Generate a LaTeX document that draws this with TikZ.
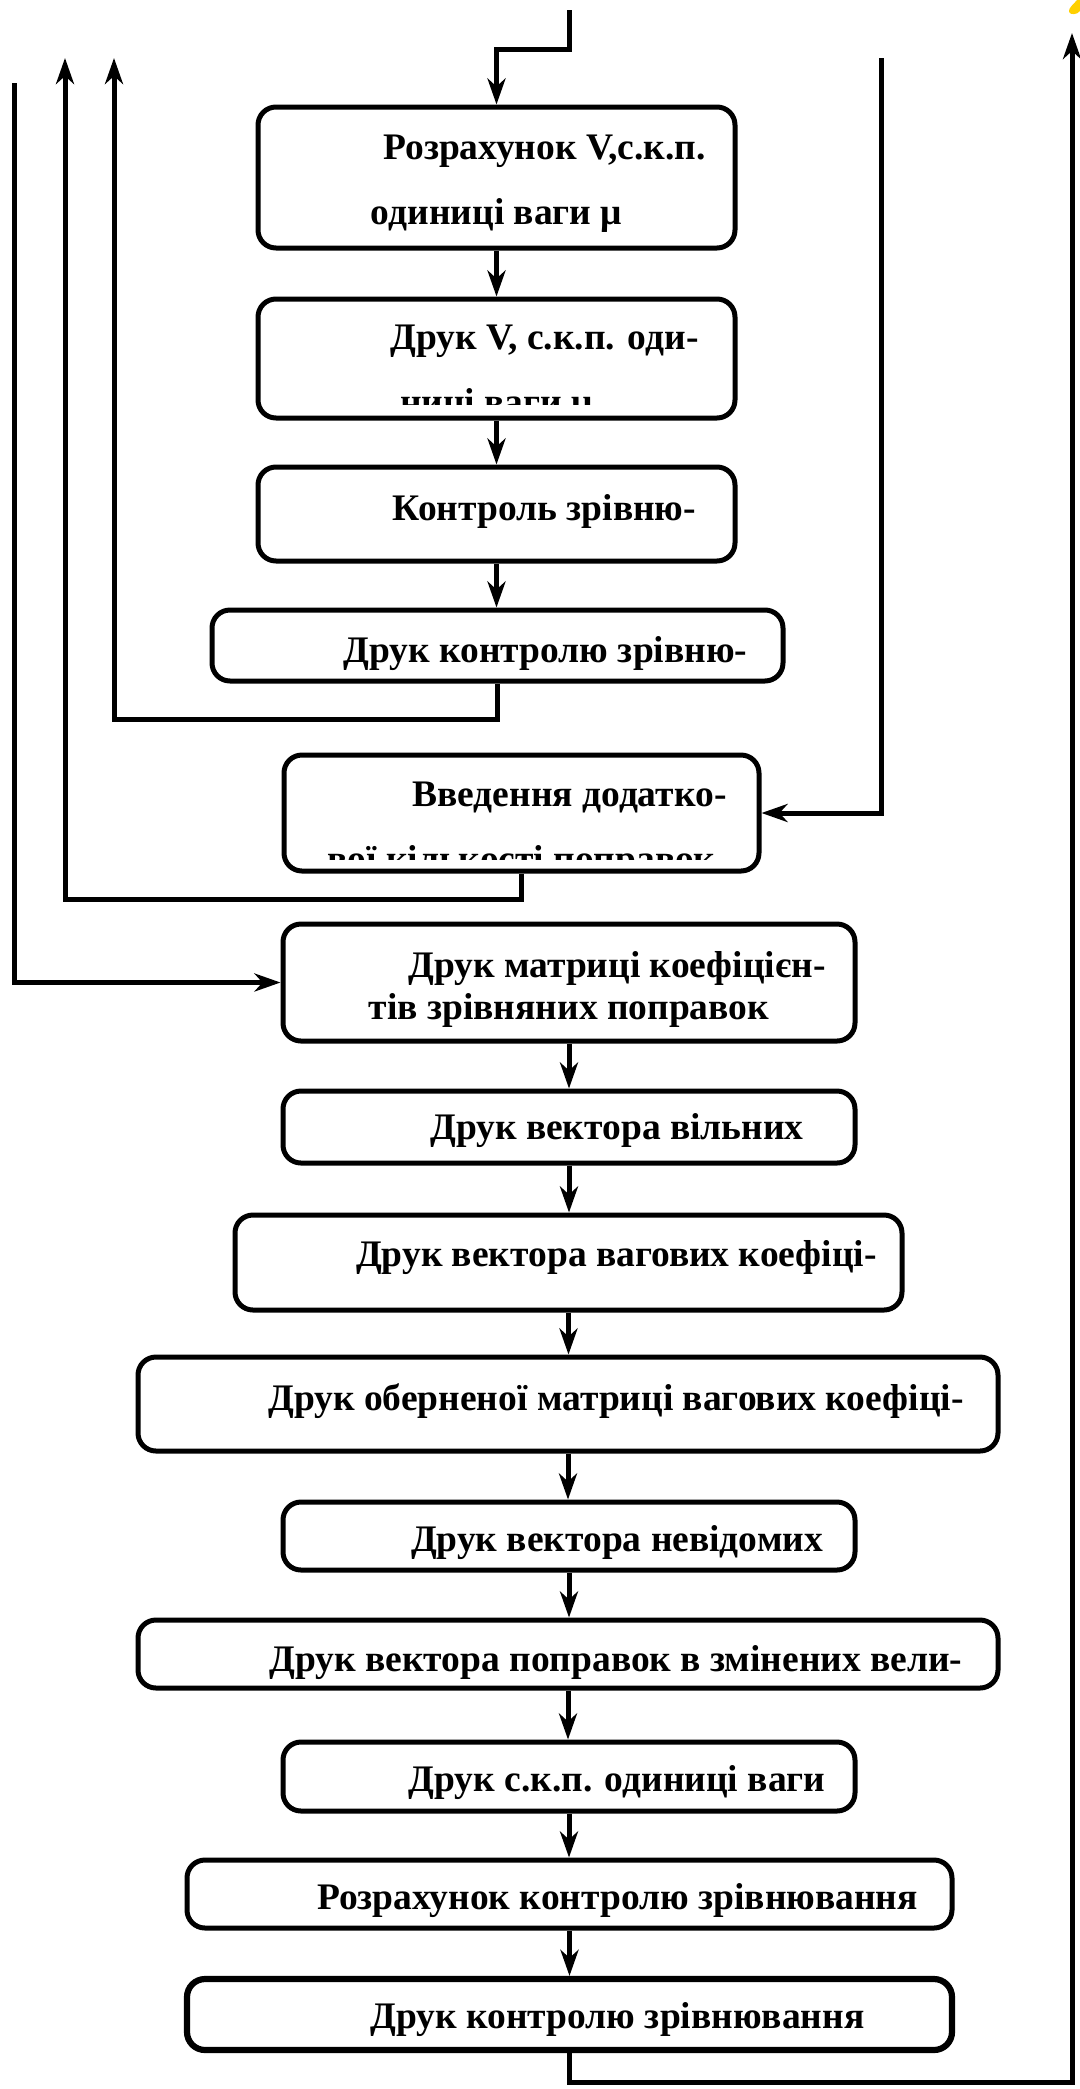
\documentclass[tikz,border=0pt]{standalone}
\usepackage{fontspec}
\setmainfont{Liberation Serif}
\usepackage{tikz}
\usetikzlibrary{arrows.meta, fit, calc}
\definecolor{cMark}{RGB}{255,208,0}
\tikzset{
	blk/.style ={rectangle, rounded corners=9pt, draw=black, line width=2.5pt, inner sep=0pt},
	txt/.style ={align=center, inner sep=0pt, font=\fontsize{18.75}{21}\selectfont\bfseries},
	flow/.style={-{Stealth[length=13pt, width=9pt, inset=4pt]}, line width=2.5pt},
}
\newcommand{\firstind}{\hspace*{48pt}}

\begin{document}
\begin{tikzpicture}[x=0.5pt, y=-0.5pt]
	\useasboundingbox (0,0) rectangle (1080,2089);
	% blocks
	\node[blk, fit={(258,107) (735,248)}]  (b1) {};
	\node[blk, fit={(258,299) (735,418)}]  (b2) {};
	\node[blk, fit={(258,467) (735,561)}]  (b3) {};
	\node[blk, fit={(212,610) (783,681)}]  (b4) {};
	\node[blk, fit={(284,755) (759,871)}]  (b5) {};
	\node[blk, fit={(283,924) (855,1041)}] (b6) {};
	\node[blk, fit={(283,1091) (855,1163)}] (b7) {};
	\node[blk, fit={(235,1215) (902,1310)}] (b8) {};
	\node[blk, fit={(138,1357) (998,1451)}] (b9) {};
	\node[blk, fit={(283,1502) (855,1570)}] (b10) {};
	\node[blk, fit={(138,1620) (998,1688)}] (b11) {};
	\node[blk, fit={(283,1742) (855,1811)}] (b12) {};
	\node[blk, fit={(187,1860) (952,1928)}] (b13) {};
	\node[blk, line width=3.1pt, fit={(187,1979) (952,2050)}] (b14) {};

	% block texts
	\node[txt] (t1) at (496.5,184) {\firstind Розрахунок V,с.к.п.\\[11.5pt]одиниці ваги μ};
	\begin{scope}
		\clip (200,280) rectangle (800,404);
		\node[txt] (t2) at (496.5,374) {\firstind Друк V, с.к.п. оди-\\[11.5pt]ниці ваги μ};
	\end{scope}
	\node[txt] (t3) at (496.5,511) {\firstind Контроль зрівню-};
	\node[txt] (t4) at (497.5,654) {\firstind Друк контролю зрівню-};
	\begin{scope}
		\clip (200,740) rectangle (800,859);
		\node[txt] (t5) at (521.5,831) {\firstind Введення додатко-\\[11.5pt]вої кількості поправок};
	\end{scope}
	\node[txt] (t6) at (569,989) {\firstind Друк матриці коефіцієн-\\тів зрівняних поправок};
	\node[txt] (t7) at (569,1131) {\firstind Друк вектора вільних};
	\node[txt] (t8) at (568.5,1258) {\firstind Друк вектора вагових коефіці-};
	\node[txt] (t9) at (568,1401) {\firstind Друк оберненої матриці вагових коефіці-};
	\node[txt] (t10) at (569,1543) {\firstind Друк вектора невідомих};
	\node[txt] (t11) at (568,1663) {\firstind Друк вектора поправок в змінених вели-};
	\node[txt] (t12) at (569,1783) {\firstind Друк с.к.п. одиниці ваги};
	\node[txt] (t13) at (569.5,1901) {\firstind Розрахунок контролю зрівнювання};
	\node[txt] (t14) at (569.5,2020) {\firstind Друк контролю зрівнювання};

	% straight links
	\foreach \a/\b in {b1/b2, b2/b3, b3/b4, b6/b7, b7/b8, b8/b9, b9/b10, b10/b11, b11/b12, b12/b13, b13/b14}
		\draw[flow] (\a.south) -- (\a.south |- \b.north);

	% loose ends of the side lines
	\coordinate (in1) at (569.5,10);
	\coordinate (in2) at (14,83);
	\coordinate (in3) at (881,58);
	\coordinate (out1) at (114,58);
	\coordinate (out2) at (65,58);
	\coordinate (out3) at (1072,33);

	\draw[flow] (in1) -- ++(0,39.5) -| (b1.north);
	\draw[flow] (b4.south) -- ++(0,36) -| (out1);
	\draw[flow] (in3) |- (b5.east);
	\draw[flow] (b5.south) -- ++(0,26) -| (out2);
	\draw[flow] (in2) |- (b6.west);
	\draw[flow] (b14.south) -- ++(0,29) -| (out3);

	% yellow mark in the corner
	\fill[cMark] (1077,0) .. controls (1074,4) and (1068,8) .. (1069,12)
		.. controls (1070,15) and (1077,15) .. (1080,11) -- (1080,0) -- cycle;
\end{tikzpicture}
\end{document}
